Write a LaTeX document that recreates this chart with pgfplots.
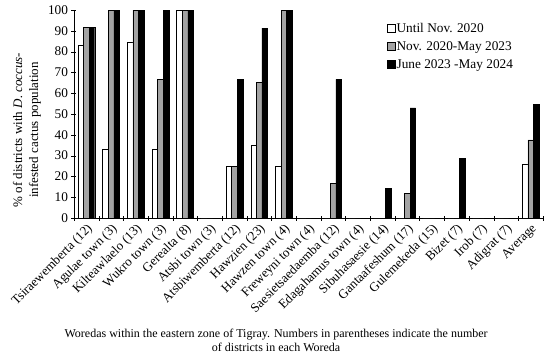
\documentclass[border=0pt]{standalone}
\usepackage{pgfplots}
\pgfplotsset{compat=1.18}
\usepackage{fontspec}
\setmainfont{Liberation Serif}
\definecolor{midgray}{HTML}{A3A3A3}
\begin{document}
\begin{tikzpicture}
\path[use as bounding box] (-74pt,-139pt) rectangle (476pt,218pt);
\begin{axis}[
  at={(0pt,0pt)}, anchor=south west,
  scale only axis,
  width=469pt, height=208pt,
  ybar=0pt, bar width=5.6pt,
  xmin=-0.5, xmax=18.5,
  ymin=0, ymax=100,
  ytick={0,10,...,100},
  xtick={0,...,18},
  xticklabels={Tsiraewemberta (12),Agulae town (3),Kilteawlaelo (13),Wukro town (3),Gerealta (8),Atsbi town (3),Atsbiwemberta (12),Hawzien (23),Hawzen town (4),Freweyni town (4),Saesietsaedaemba (12),Edagahamus town (4),Sibuhasaesie (14),Gantaafeshum (17),Gulemekeda (15),Bizet (7),Irob (7),Adigrat (7),Average},
  x tick label style={rotate=45, anchor=north east, inner sep=1.5pt, font=\fontsize{13}{13}\selectfont},
  y tick label style={font=\fontsize{13.3}{13}\selectfont},
  major x tick style={draw=none},
  minor xtick={-0.5,0.5,...,18.5},
  minor x tick style={black},
  minor tick length=5pt,
  major tick length=5pt,
  tick align=outside,
  axis lines=left,
  axis line style={-, black},
  tick style={black},
  /pgf/number format/assume math mode=true,
  ylabel={\% of districts with \textit{D. coccus}-\\infested cactus population},
  ylabel style={at={(rel axis cs:0,0.423)}, anchor=center, yshift=47pt, align=center, font=\fontsize{13}{16}\selectfont},
  xlabel={Woredas within the eastern zone of Tigray. Numbers in parentheses indicate the number\\of districts in each Woreda},
  xlabel style={at={(rel axis cs:0.431,0)}, yshift=-111pt, anchor=north, inner sep=0pt, align=center, font=\fontsize{12}{14}\selectfont},
  legend style={draw=none, fill=none, at={(0.668,0.942)}, anchor=north west, font=\fontsize{13.3}{15}\selectfont, row sep=5pt, inner sep=0pt, nodes={inner sep=1.2pt}},
  legend cell align=left,
  legend image code/.code={\draw[#1, draw=black] (0pt,-3.2pt) rectangle (7.5pt,4.3pt);},
]
\addplot[draw=black, fill=white] coordinates {(0,83.3) (1,33.3) (2,84.6) (3,33.3) (4,100) (5,0) (6,25) (7,34.8) (8,25) (9,0) (10,0) (11,0) (12,0) (13,0) (14,0) (15,0) (16,0) (17,0) (18,25.8)};
\addplot[draw=black, fill=midgray] coordinates {(0,91.7) (1,100) (2,100) (3,66.7) (4,100) (5,0) (6,25) (7,65.2) (8,100) (9,0) (10,16.7) (11,0) (12,0) (13,11.8) (14,0) (15,0) (16,0) (17,0) (18,37.6)};
\addplot[draw=black, fill=black] coordinates {(0,91.7) (1,100) (2,100) (3,100) (4,100) (5,0) (6,66.7) (7,91.3) (8,100) (9,0) (10,66.7) (11,0) (12,14.3) (13,52.9) (14,0) (15,28.6) (16,0) (17,0) (18,54.8)};
\legend{Until Nov. 2020, Nov. 2020-May 2023, June 2023 -May 2024}
\end{axis}
\end{tikzpicture}
\end{document}
